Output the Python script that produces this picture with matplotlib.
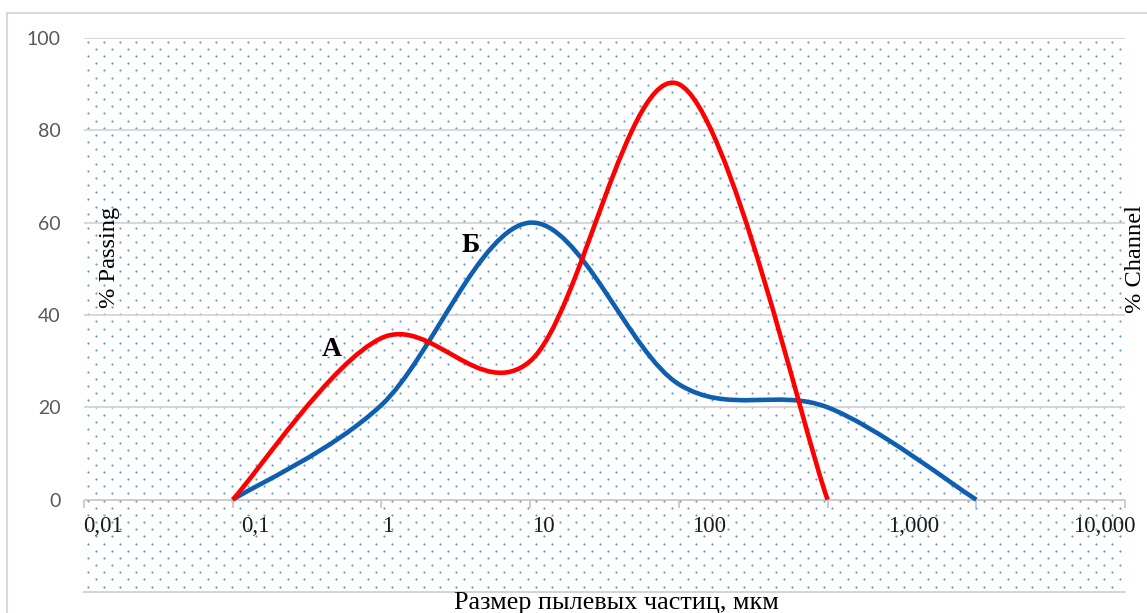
import numpy as np
import matplotlib
matplotlib.use("Agg")
import matplotlib.pyplot as plt
from matplotlib.path import Path
from matplotlib.patches import PathPatch, Rectangle
from matplotlib.transforms import IdentityTransform

# ---------------- data ----------------
x_A = [0.1, 1, 10, 100, 1000]
y_A = [0, 35, 30, 90, 0]
x_B = [0.1, 1, 10, 100, 1000, 10000]
y_B = [0, 20.5, 60, 25, 20, 0]

y_ticks = [0, 20, 40, 60, 80, 100]
x_tick_values = [0.01, 0.1, 1, 10, 100, 1000, 10000, 100000]
x_tick_labels = ["0,01", "0,1", "1", "10", "100", "1,000", "10,000"]
x_label_px = [103, 255, 388, 543, 709, 914, 1104]   # label centres (layout)

series_names = ["А", "Б"]
x_title = "Размер пылевых частиц, мкм"
y_title_left = "% Passing"
y_title_right = "% Channel"

# ---------------- layout ----------------
W, H = 1147, 613
DPI = 100
L, R, T, B = 84, 1125, 38, 592

def fx(px):
    return px / W

def fy(py):
    return 1 - py / H

fig = plt.figure(figsize=(W / DPI, H / DPI), dpi=DPI)
fig.patch.set_facecolor("white")
ax = fig.add_axes([fx(L), fy(B), (R - L) / W, (B - T) / H])
ax.set_xscale("log")
ax.set_xlim(x_tick_values[0], x_tick_values[-1])
ax.set_ylim(-20, 100)
ax.set_facecolor("white")

for s in ["left", "right", "top"]:
    ax.spines[s].set_visible(False)
ax.spines["bottom"].set_color("#D0D0D0")
ax.spines["bottom"].set_linewidth(1.3)

# dotted background texture (display pixels)
dots_x, dots_y = [], []
row = 0
yy = T + 3.7
while yy < B:
    x0 = L + 3.7 + (8 if row % 2 else 0)
    xs = np.arange(x0, R, 16.0)
    dots_x.extend(xs)
    dots_y.extend([H - yy] * len(xs))
    yy += 7.17
    row += 1
ax.scatter(dots_x, dots_y, s=2.4, marker="o", color="#5B9BD5", linewidths=0,
           transform=IdentityTransform(), zorder=0.5, clip_on=True)

# gridlines
for v in y_ticks[1:]:
    ax.axhline(v, color="#D4D4D4", lw=1.3, zorder=1)
ax.axhline(0, color="#C8C8C8", lw=1.3, zorder=1)

# y ticks
ax.set_yticks(y_ticks)
ax.set_yticklabels([str(v) for v in y_ticks], fontfamily="Lato", fontsize=14,
                   color="#595959")
ax.tick_params(axis="y", length=0, pad=17)

# x ticks: marks on y=0 line, labels as free texts
ax.set_xticks([])
ax.set_xticks([], minor=True)
for xv in x_tick_values:
    ax.plot([xv, xv], [0, -1.8], color="#C8C8C8", lw=1.3, zorder=1,
            solid_capstyle="butt", clip_on=False)
for lab, px in zip(x_tick_labels, x_label_px):
    fig.text(fx(px), fy(527), lab, ha="center", va="center",
             fontfamily="Liberation Serif", fontsize=16.5, color="#1a1a1a")

# smoothed curves (Excel-like Bezier smoothing in log-x space)
def smooth_path(xs, ys):
    P = np.column_stack([np.log10(np.asarray(xs, float)), np.asarray(ys, float)])
    n = len(P)
    verts = [P[0]]
    codes = [Path.MOVETO]
    for i in range(n - 1):
        p_prev = P[i - 1] if i > 0 else P[i]
        p_next2 = P[i + 2] if i + 2 < n else P[i + 1]
        c1 = P[i] + (P[i + 1] - p_prev) / 6.0
        c2 = P[i + 1] - (p_next2 - P[i]) / 6.0
        verts += [c1, c2, P[i + 1]]
        codes += [Path.CURVE4] * 3
    verts = np.array(verts)
    verts[:, 0] = 10 ** verts[:, 0]
    return Path(verts, codes)

ax.add_patch(PathPatch(smooth_path(x_B, y_B), fill=False, edgecolor="#0F5FB0",
                       lw=3.3, capstyle="butt", joinstyle="round", zorder=3))
ax.add_patch(PathPatch(smooth_path(x_A, y_A), fill=False, edgecolor="#FF0000",
                       lw=3.3, capstyle="butt", joinstyle="round", zorder=4))

# series labels
fig.text(fx(332), fy(350), series_names[0], ha="center", va="center",
         fontfamily="Liberation Serif", fontweight="bold", fontsize=20, color="black")
fig.text(fx(471), fy(246), series_names[1], ha="center", va="center",
         fontfamily="Liberation Serif", fontweight="bold", fontsize=20, color="black")

# axis titles
fig.text(fx(616), fy(609), x_title, ha="center", va="baseline",
         fontfamily="Liberation Serif", fontsize=18.8, color="black")
fig.text(fx(109), fy(257), y_title_left, ha="center", va="center", rotation=90,
         fontfamily="Liberation Serif", fontsize=17.6, color="black")
fig.text(fx(1146), fy(259), y_title_right, ha="right", va="center", rotation=90,
         fontfamily="Liberation Serif", fontsize=17.6, color="black")

# outer chart border
fig.patches.append(Rectangle((7, -10), 1300, H - 13 + 10, fill=False,
                             edgecolor="#D9D9D9", lw=1.5,
                             transform=IdentityTransform(), figure=fig))

fig.savefig("out.png", dpi=DPI)
